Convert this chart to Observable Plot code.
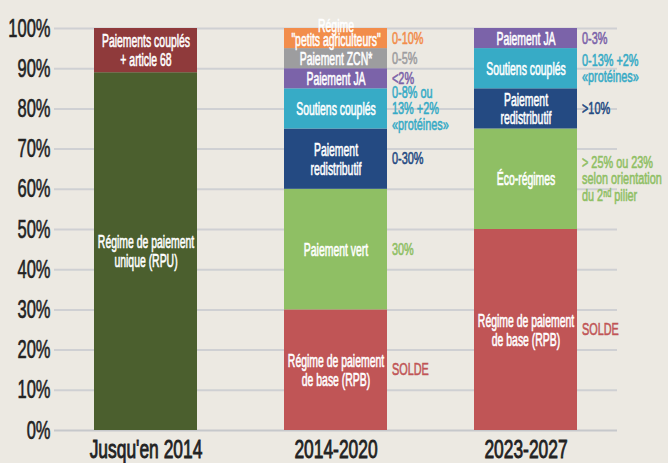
<!DOCTYPE html>
<html><head><meta charset="utf-8">
<script src="https://cdn.jsdelivr.net/npm/d3@7"></script>
<script src="https://cdn.jsdelivr.net/npm/@observablehq/plot@0.6"></script>
<style>
html,body{margin:0;padding:0;background:#ece9e2;}
</style>
</head><body>
<div id="chart"></div>
<script>
// ---- data ----
const periods = ["Jusqu'en 2014", "2014-2020", "2023-2027"];
const components = ["RPU", "Couplés68", "RPB", "Vert", "Eco", "Redistributif", "Soutiens", "JA", "ZCN", "Petits"];
const componentColors = ["#4b5f2e", "#8f3a3b", "#c05556", "#8fbf64", "#8fbf64", "#244a82", "#37abc6", "#7b63a9", "#9d9d9f", "#f28d4b"];

const segPeriod = ["Jusqu'en 2014", "Jusqu'en 2014",
  "2014-2020", "2014-2020", "2014-2020", "2014-2020", "2014-2020", "2014-2020", "2014-2020",
  "2023-2027", "2023-2027", "2023-2027", "2023-2027", "2023-2027"];
const segComp = ["RPU", "Couplés68",
  "RPB", "Vert", "Redistributif", "Soutiens", "JA", "ZCN", "Petits",
  "RPB", "Eco", "Redistributif", "Soutiens", "JA"];
const segValue = [89, 11,
  30, 30, 15, 10, 5, 5, 5,
  50, 25, 10, 10, 5];
const segLabel = ["Régime de paiement\nunique (RPU)", "Paiements couplés\n+ article 68",
  "Régime de paiement\nde base (RPB)", "Paiement vert", "Paiement\nredistributif", "Soutiens couplés", "Paiement JA", "Paiement ZCN*", "Régime\n\"petits agriculteurs\"",
  "Régime de paiement\nde base (RPB)", "Éco-régimes", "Paiement\nredistributif", "Soutiens couplés", "Paiement JA"];

const annPeriod = ["2014-2020", "2014-2020", "2014-2020", "2014-2020", "2014-2020", "2014-2020", "2014-2020",
  "2023-2027", "2023-2027", "2023-2027", "2023-2027", "2023-2027"];
const annComp = ["Petits", "ZCN", "JA", "Soutiens", "Redistributif", "Vert", "RPB",
  "JA", "Soutiens", "Redistributif", "Eco", "RPB"];
const annText = ["0-10%", "0-5%", "<2%", "0-8% ou\n13% +2%\n«protéines»", "0-30%", "30%", "SOLDE",
  "0-3%", "0-13% +2%\n«protéines»", ">10%", "> 25% ou 23%\nselon orientation\ndu 2ⁿᵈ pilier", "SOLDE"];

const yTicks = [0, 10, 20, 30, 40, 50, 60, 70, 80, 90, 100];

// ---- derived table ----
const segs = [];
const cum = {};
segValue.forEach((v, i) => {
  const p = segPeriod[i];
  const y1 = cum[p] || 0;
  cum[p] = y1 + v;
  segs.push({period: p, comp: segComp[i], y1, y2: y1 + v, mid: y1 + v / 2, label: segLabel[i]});
});
const anns = annText.map((t, i) => {
  const s = segs.find(d => d.period === annPeriod[i] && d.comp === annComp[i]);
  return {period: annPeriod[i], comp: annComp[i], y: s.mid, text: t};
});

const FONT = "'Liberation Sans', Arial, sans-serif";

const chart = Plot.plot({
  width: 668, height: 463,
  marginTop: 28, marginBottom: 33, marginLeft: 54, marginRight: 51,
  style: {background: "#ece9e2", fontFamily: FONT, overflow: "visible"},
  x: {domain: periods, paddingInner: 0.458, paddingOuter: 0.205, axis: null},
  y: {domain: [0, 100], axis: null},
  color: {domain: components, range: componentColors},
  marks: [
    Plot.ruleY(yTicks.filter(d => d > 0), {stroke: "#cfd0d3", strokeWidth: 2}),
    Plot.ruleY([0], {stroke: "#c6c8cb", strokeWidth: 2}),
    Plot.rectY(segs, {x: "period", y1: "y1", y2: "y2", fill: "comp"}),
    Plot.text(segs.filter(d => d.comp !== "Petits"), {x: "period", y: "mid", text: "label", fill: "white", fontSize: 18, lineHeight: 1.05}),
    Plot.text(segs.filter(d => d.comp === "Petits"), {x: "period", y: "mid", text: "label", fill: "white", fontSize: 18, lineHeight: 0.78, dy: -4}),
    Plot.text(anns, {x: "period", y: "y", text: "text", fill: "comp", textAnchor: "start", dx: 56, fontSize: 17, lineHeight: 0.95}),
    Plot.axisY({ticks: yTicks, tickFormat: d => d + "%", tickSize: 0, tickPadding: 4, fontSize: 25, fill: "#222"}),
    Plot.axisX({tickSize: 0, tickPadding: 9, fontSize: 26, fill: "#222", label: null})
  ]
});
document.getElementById("chart").appendChild(chart);

// condense all text horizontally around its anchor (narrow display face)
const scaleBySize = {"18": 0.58, "17": 0.64, "25": 0.66, "26": 0.67};
const isNum = v => v !== null && /^-?[\d.]+(e-?\d+)?$/.test(v.trim());
chart.querySelectorAll("text").forEach(t => {
  const g = t.closest("[font-size]");
  const fs = g ? String(parseFloat(g.getAttribute("font-size"))) : "18";
  const sx = scaleBySize[fs] || 0.62;
  let tr = t.getAttribute("transform") || "";
  const x = t.getAttribute("x"), y = t.getAttribute("y");
  let tx = 0, ty = 0;
  if (isNum(x)) { tx = +x; t.removeAttribute("x"); }
  if (isNum(y)) { ty = +y; t.removeAttribute("y"); }
  t.setAttribute("transform", `${tr} translate(${tx},${ty}) scale(${sx},1)`.trim());
  const fill = getComputedStyle(t).fill;
  t.style.stroke = fill;
  t.style.strokeWidth = fs === "26" ? "0.9px" : "0.6px";
  t.style.paintOrder = "normal";
});
</script>
</body></html>
